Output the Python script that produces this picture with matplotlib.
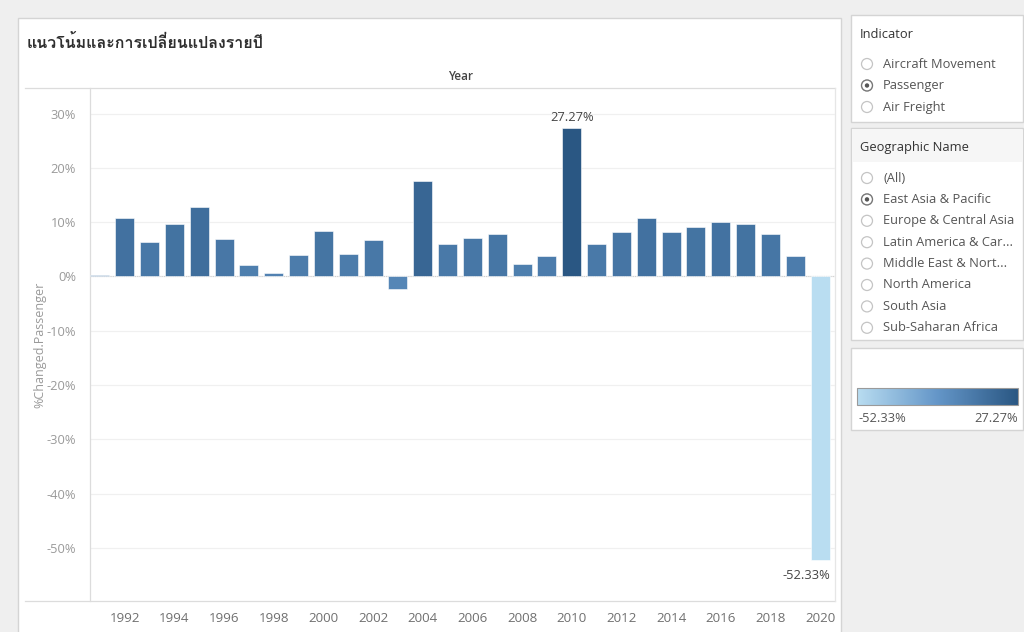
import numpy as np
import matplotlib
matplotlib.use("Agg")
import matplotlib.pyplot as plt
from matplotlib import font_manager
from matplotlib.ft2font import FT2Font
from matplotlib.colors import LinearSegmentedColormap, Normalize
from matplotlib.patches import Rectangle, Circle

# ---- data ----
years = list(range(1991, 2021))
pct_change = [0.2, 10.7, 6.3, 9.6, 12.8, 6.9, 2.1, 0.6, 4.0, 8.4,
              4.2, 6.7, -2.3, 17.6, 5.9, 7.1, 7.8, 2.3, 3.8, 27.27,
              5.9, 8.2, 10.7, 8.2, 9.1, 10.1, 9.6, 7.8, 3.8, -52.33]
year_ticks = list(range(1992, 2021, 2))
y_ticks = [30, 20, 10, 0, -10, -20, -30, -40, -50]

title = "แนวโน้มและการเปลี่ยนแปลงรายปี"
indicator_items = ["Aircraft Movement", "Passenger", "Air Freight"]
indicator_selected = "Passenger"
geo_items = ["(All)", "East Asia & Pacific", "Europe & Central Asia",
             "Latin America & Car...", "Middle East & Nort...",
             "North America", "South Asia", "Sub-Saharan Africa"]
geo_selected = "East Asia & Pacific"


def families_with(char):
    """Installed font families that have a glyph for `char`."""
    found = []
    for f in font_manager.fontManager.ttflist:
        try:
            if ord(char) in FT2Font(f.fname).get_charmap():
                if f.name not in found:
                    found.append(f.name)
        except Exception:
            pass
    return found


thai_fams = families_with("ก")

W, H = 1024, 632
FONT = ["Open Sans", "DejaVu Sans"]
TITLE_FONT = ["Open Sans"] + thai_fams + ["DejaVu Sans"]
plt.rcParams["font.family"] = FONT

cmap = LinearSegmentedColormap.from_list(
    "tab_blue", ["#b9ddf1", "#6496c8", "#2a5783"])
vmin, vmax = min(pct_change), max(pct_change)
norm = Normalize(vmin=vmin, vmax=vmax)

fig = plt.figure(figsize=(W / 100, H / 100), dpi=100)
fig.patch.set_facecolor("#efefef")

# background layer in pixel coordinates
bg = fig.add_axes([0, 0, 1, 1])
bg.set_xlim(0, W)
bg.set_ylim(H, 0)
bg.axis("off")


def panel(x0, y0, x1, y1, face="white"):
    bg.add_patch(Rectangle((x0, y0), x1 - x0, y1 - y0, facecolor=face,
                           edgecolor="#d4d4d4", linewidth=1.0))


# main sheet
panel(18, 18, 841, 640)
bg.text(27, 44, title, fontsize=11.5, color="#2f2f2f", va="center",
        ha="left", family=TITLE_FONT, fontweight="bold")
bg.text(461, 76, "Year", fontsize=8.5, color="#444444", va="center",
        ha="center", fontweight="semibold")
bg.plot([25, 835], [88, 88], color="#dcdcdc", lw=0.9)
bg.plot([25, 835], [601, 601], color="#dcdcdc", lw=0.9)
bg.plot([835, 835], [88, 601], color="#e6e6e6", lw=0.9)


def radio_list(items, selected, y_start, step):
    for i, name in enumerate(items):
        y = y_start + i * step
        bg.add_patch(Circle((867, y), 5.5, facecolor="white",
                            edgecolor="#c4c4c4", linewidth=0.9))
        if name == selected:
            bg.add_patch(Circle((867, y), 2.2, facecolor="#555555",
                                edgecolor="none"))
            bg.add_patch(Circle((867, y), 5.5, facecolor="none",
                                edgecolor="#777777", linewidth=0.9))
        bg.text(883, y, name, fontsize=9.3, color="#555555",
                va="center", ha="left")


# indicator filter
panel(851, 15, 1023, 122)
bg.text(860, 34, "Indicator", fontsize=9.3, color="#333333", va="center")
radio_list(indicator_items, indicator_selected, 64, 21.5)

# geographic filter
panel(851, 128, 1023, 340)
bg.add_patch(Rectangle((852, 129), 170, 33, facecolor="#f6f6f6",
                       edgecolor="none"))
bg.text(860, 147, "Geographic Name", fontsize=9.3, color="#333333",
        va="center")
radio_list(geo_items, geo_selected, 178, 21.4)

# colour legend
panel(851, 348, 1023, 430)
grad = np.linspace(0, 1, 256).reshape(1, -1)
bg.imshow(grad, cmap=cmap, aspect="auto", extent=(857, 1018, 405, 388),
          zorder=3)
bg.add_patch(Rectangle((857, 388), 161, 17, facecolor="none",
                       edgecolor="#9a9a9a", linewidth=0.8, zorder=4))
bg.text(858, 418, f"{vmin:.2f}%", fontsize=9.3, color="#555555",
        va="center", ha="left")
bg.text(1018, 418, f"{vmax:.2f}%", fontsize=9.3, color="#555555",
        va="center", ha="right")
bg.set_xlim(0, W)
bg.set_ylim(H, 0)

# bar chart
ax = fig.add_axes([90 / W, 1 - 601 / H, (835 - 90) / W, (601 - 88) / H])
ax.set_facecolor("none")
ax.bar(years, pct_change, width=0.77, color=cmap(norm(pct_change)),
       edgecolor="white", linewidth=0.4, zorder=3)
ax.set_xlim(1990.6, 2020.6)
ax.set_ylim(-59.8, 34.7)
ax.set_yticks(y_ticks)
ax.set_yticklabels([f"{v}%" for v in y_ticks])
ax.set_xticks(year_ticks)
ax.set_xticklabels([str(y) for y in year_ticks])
ax.yaxis.grid(True, color="#f0f0f0", linewidth=0.9, zorder=0)
ax.axhline(0, color="#d0d0d0", linewidth=0.8, linestyle=(0, (1, 1)), zorder=2)
ax.tick_params(axis="y", length=0, pad=10, labelsize=9.3, labelcolor="#9a9a9a")
ax.tick_params(axis="x", length=0, pad=8, labelsize=9.6, labelcolor="#707070")
for side in ["top", "right", "bottom"]:
    ax.spines[side].set_visible(False)
ax.spines["left"].set_color("#dcdcdc")
ax.spines["left"].set_linewidth(0.9)
ax.set_ylabel("%Changed.Passenger", fontsize=9, color="#9a9a9a", labelpad=0)

# value labels for the extremes
i_max = int(np.argmax(pct_change))
i_min = int(np.argmin(pct_change))
ax.annotate(f"{pct_change[i_max]:.2f}%", (years[i_max], pct_change[i_max]),
            xytext=(0, 3), textcoords="offset points", ha="center",
            va="bottom", fontsize=9.3, color="#444444")
ax.annotate(f"{pct_change[i_min]:.2f}%", (years[i_min], pct_change[i_min]),
            xytext=(-10, -6), textcoords="offset points", ha="center",
            va="top", fontsize=9.3, color="#444444")

fig.savefig("out.png", dpi=100, facecolor=fig.get_facecolor())
